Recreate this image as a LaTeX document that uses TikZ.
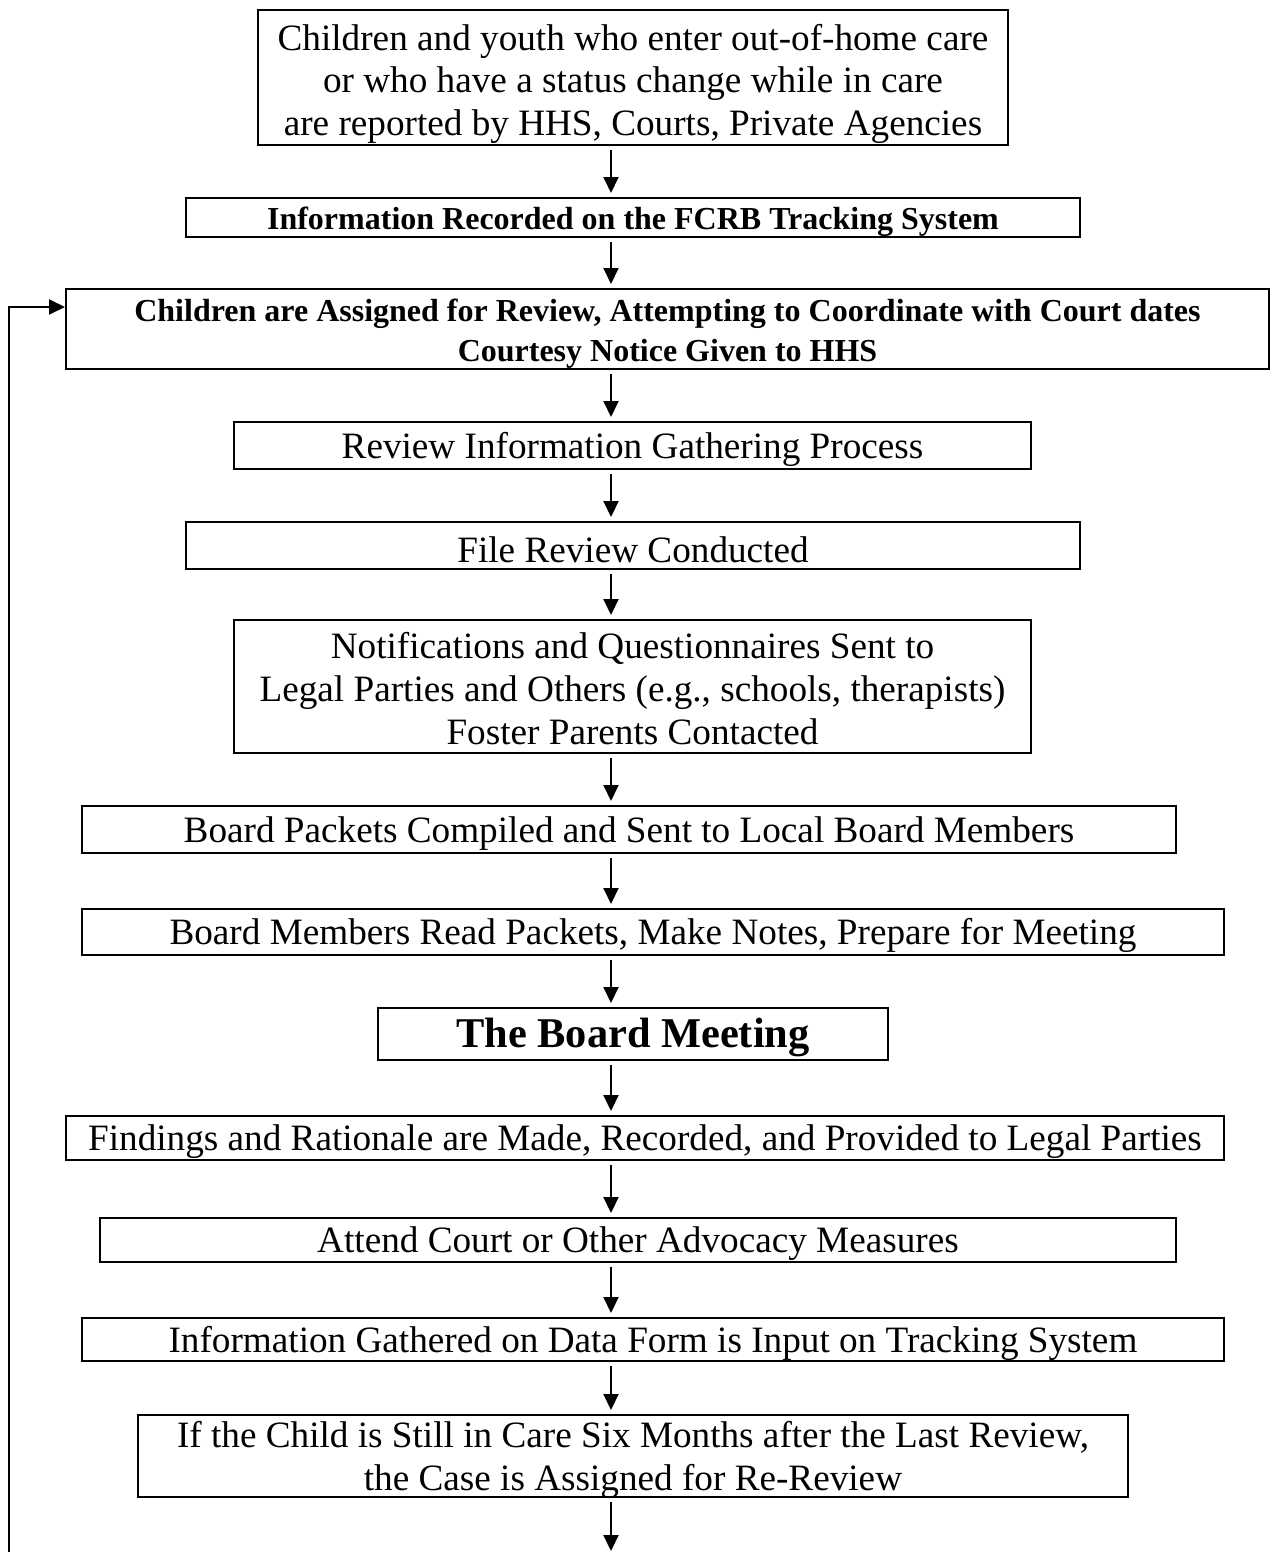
\documentclass[tikz,border=0pt]{standalone}
\usepackage{fontspec}
\setmainfont{Liberation Serif}
\usetikzlibrary{arrows.meta}

\newcommand{\bodyfont}{\fontsize{37.2}{42.8}\selectfont}
\newcommand{\headfont}{\fontsize{32}{40}\selectfont\bfseries}
\newcommand{\meetfont}{\fontsize{42.4}{48}\selectfont\bfseries}
\newcommand{\lift}[1]{\rule{0pt}{#1}}
\newcommand{\nodepth}[1]{\raisebox{0pt}[\height][0pt]{#1}}

\begin{document}
\begin{tikzpicture}[x=1pt, y=-1pt, line width=2pt, >={Triangle[length=16pt,width=15pt]},
    box/.style={draw, rectangle, inner sep=0pt, align=center, font=\bodyfont,
        execute at begin node={\lift{#1}}},
    box/.default=0.9em]
    \useasboundingbox (0,0) rectangle (1274,1552);

    \node (entry) [box=0pt, minimum width=750pt, minimum height=135pt] at (633,77.5)
        {\lift{1.04em}Children and youth who enter out-of-home care\\or who have a status change while in care\\are reported by HHS, Courts, Private Agencies};
    \node (record) [box=0.94em, minimum width=894pt, minimum height=39pt, font=\headfont] at (633,217.5)
        {Information Recorded on the FCRB Tracking System};
    \node (assign) [box=0pt, minimum width=1203pt, minimum height=80pt, font=\headfont] at (667.5,329)
        {\lift{0.8em}Children are Assigned for Review, Attempting to Coordinate with Court dates\\\nodepth{Courtesy Notice Given to HHS}};
    \node (gather) [box, minimum width=797pt, minimum height=47pt] at (632.5,445.5)
        {Review Information Gathering Process};
    \node (file) [box, minimum width=894pt, minimum height=47pt] at (633,545.5)
        {File Review Conducted};
    \node (notify) [box=0pt, minimum width=797pt, minimum height=133pt] at (632.5,686.5)
        {\lift{0.8em}Notifications and Questionnaires Sent to\\Legal Parties and Others (e.g., schools, therapists)\\Foster Parents Contacted};
    \node (packets) [box, minimum width=1094pt, minimum height=47pt] at (629,829.5)
        {Board Packets Compiled and Sent to Local Board Members};
    \node (members) [box, minimum width=1142pt, minimum height=46pt] at (653,932)
        {Board Members Read Packets, Make Notes, Prepare for Meeting};
    \node (meeting) [box=0.88em, minimum width=510pt, minimum height=52pt, font=\meetfont] at (633,1034)
        {The Board Meeting};
    \node (findings) [box, minimum width=1158pt, minimum height=44pt] at (645,1138)
        {Findings and Rationale are Made, Recorded, and Provided to Legal Parties};
    \node (court) [box, minimum width=1076pt, minimum height=44pt] at (638,1240)
        {Attend Court or Other Advocacy Measures};
    \node (input) [box, minimum width=1142pt, minimum height=43pt] at (653,1339.5)
        {Information Gathered on Data Form is Input on Tracking System};
    \node (rereview) [box=0pt, minimum width=990pt, minimum height=82pt] at (633,1456)
        {\lift{0.63em}If the Child is Still in Care Six Months after the Last Review,\\\nodepth{the Case is Assigned for Re-Review}};

    % arrows run down one common axis
    \coordinate (axis) at (611,0);
    \coordinate (bottom) at (611,1551);
    \coordinate (loop) at (9,1552);

    \foreach \a/\b in {entry/record, record/assign, assign/gather, gather/file, file/notify,
        notify/packets, packets/members, members/meeting, meeting/findings, findings/court,
        court/input, input/rereview}
        \draw[->, shorten <=4pt, shorten >=4pt] (\a.south -| axis) -- (\b.north -| axis);
    \draw[->, shorten <=4pt] (rereview.south -| axis) -- (bottom);

    % back to assignment
    \draw[->] (loop) |- ([yshift=22pt]assign.west);
\end{tikzpicture}
\end{document}
